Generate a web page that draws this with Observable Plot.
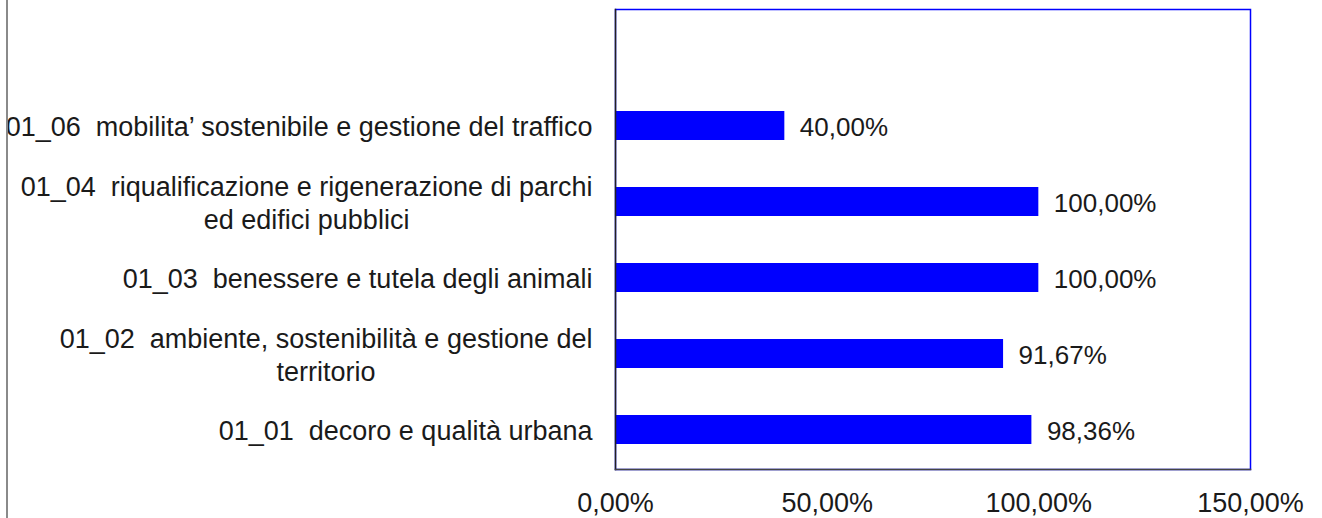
<!DOCTYPE html>
<html><head><meta charset="utf-8">
<script src="https://cdn.jsdelivr.net/npm/d3@7"></script>
<script src="https://cdn.jsdelivr.net/npm/@observablehq/plot@0.6"></script>
<style>
body{margin:0;background:#fff;}
#chart{position:relative;width:1322px;height:518px;overflow:hidden;}
#edge{position:absolute;left:6px;top:0;width:2px;height:518px;background:#8a8a8a;}
#chart svg text{white-space:pre;}
</style></head><body>
<div id="chart"><div id="edge"></div></div>
<script>
const categories = [
  "01_06  mobilita\u2019 sostenibile e gestione del traffico",
  "01_04  riqualificazione e rigenerazione di parchi\ned edifici pubblici",
  "01_03  benessere e tutela degli animali",
  "01_02  ambiente, sostenibilità e gestione del\nterritorio",
  "01_01  decoro e qualità urbana"
];
const values = [0.40, 1.00, 1.00, 0.9167, 0.9836];
const tickValues = [0, 0.5, 1, 1.5];
const blankSlot = " ";

const data = categories.map((c, i) => ({category: c, value: values[i]}));
const fmt = v => (v * 100).toFixed(2).replace(".", ",") + "%";
const ink = "#1a1a1a";
const fs = 26;
const fsAxis = 27;

const plot = Plot.plot({
  width: 1322, height: 518,
  marginLeft: 615, marginRight: 72, marginTop: 9, marginBottom: 49,
  style: {fontFamily: "'Liberation Sans', Arial, sans-serif", fontSize: fs + "px", color: ink, background: "white"},
  x: {domain: [0, 1.5]},
  y: {domain: [blankSlot, ...categories], paddingInner: 0.62, paddingOuter: 0.31},
  marks: [
    Plot.frame({stroke: "#0000ff", strokeWidth: 1.5}),
    Plot.barX(data, {x: "value", y: "category", fill: "#0000ff"}),
    Plot.text(data, {x: "value", y: "category", text: d => fmt(d.value), textAnchor: "start", dx: 15, dy: 2, fontSize: fs, fill: ink}),
    Plot.axisX({ticks: tickValues, tickFormat: fmt, tickSize: 0, tickPadding: 23, label: null, fontSize: fsAxis, fill: ink}),
    Plot.axisY({tickSize: 0, tickPadding: 23, label: null, fontSize: fsAxis, fill: ink, lineHeight: 1.2}),
    Plot.frame({anchor: "left", stroke: "#222", strokeWidth: 1.5}),
    Plot.frame({anchor: "bottom", stroke: "#444", strokeWidth: 1.5})
  ]
});
document.getElementById("chart").appendChild(plot);

// center multi-line labels as a block, keeping the block right-aligned
plot.querySelectorAll('g[aria-label="y-axis tick label"] text').forEach(t => {
  const spans = t.querySelectorAll("tspan");
  if (spans.length > 1) {
    const b = t.getBBox();
    const cx = b.x + b.width / 2;
    t.setAttribute("text-anchor", "middle");
    spans.forEach(s => s.setAttribute("x", cx));
  }
});
</script>
</body></html>
